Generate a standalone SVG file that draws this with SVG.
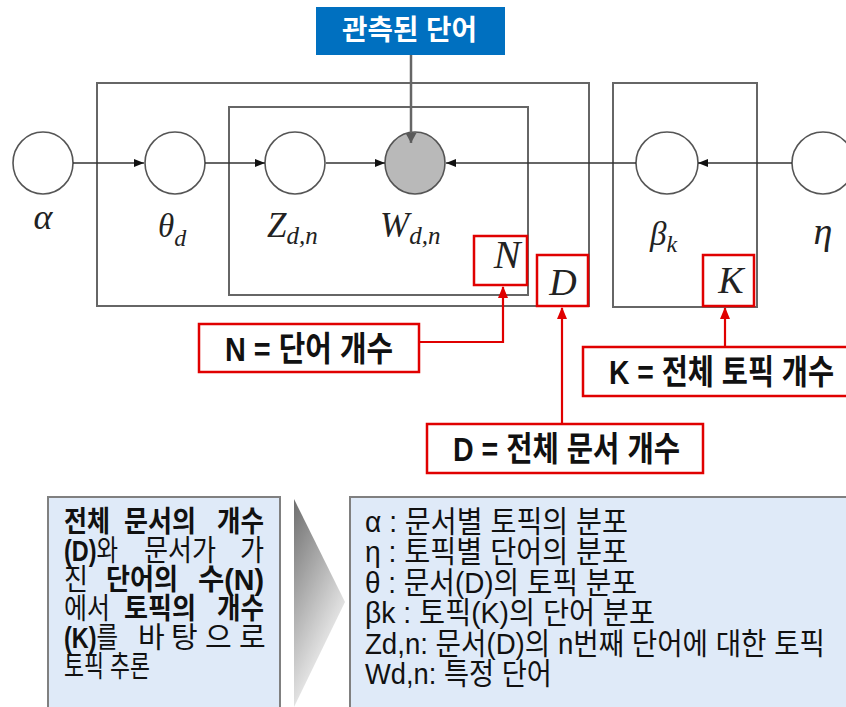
<svg xmlns="http://www.w3.org/2000/svg" width="846" height="707" viewBox="0 0 846 707">
<style>
.plate{fill:none;stroke:#666;stroke-width:2}
.node{fill:#fff;stroke:#555;stroke-width:1.6}
.obs{fill:#b9b9b9;stroke:#555;stroke-width:1.6}
.edge{fill:none;stroke:#333;stroke-width:1.5;marker-end:url(#ah)}
.redline{fill:none;stroke:#e00000;stroke-width:2.2;marker-end:url(#rah)}
.redbox{fill:#fff;stroke:#e00000;stroke-width:2.5}
.math{font-family:"Liberation Serif","DejaVu Serif",serif;font-style:italic;fill:#222}
.lbl{font-family:"Liberation Sans","Noto Sans CJK KR",sans-serif;font-weight:bold;font-size:34px;fill:#111}
.info{fill:#dfeaf8;stroke:#808080;stroke-width:2}
.t{font-family:"Liberation Sans","Noto Sans CJK KR",sans-serif;font-size:29px;fill:#111}
.r{font-family:"Liberation Sans","Noto Sans CJK KR",sans-serif;font-size:30px;fill:#111}
.b{font-weight:bold}
</style>
<defs>
<marker id="ah" markerUnits="userSpaceOnUse" markerWidth="10" markerHeight="8" refX="10" refY="4" orient="auto"><path d="M0,0 L10,4 L0,8 Z" fill="#111"/></marker>
<marker id="gah" markerUnits="userSpaceOnUse" markerWidth="10" markerHeight="11" refX="10" refY="5.5" orient="auto"><path d="M0,0 L10,5.5 L0,11 Z" fill="#5a5a5a"/></marker>
<marker id="rah" markerUnits="userSpaceOnUse" markerWidth="12" markerHeight="10" refX="11" refY="5" orient="auto"><path d="M0,0 L12,5 L0,10 Z" fill="#e00000"/></marker>
<linearGradient id="chev" x1="0" y1="0" x2="0.5" y2="1">
<stop offset="0" stop-color="#6e6e6e"/>
<stop offset="1" stop-color="#ffffff"/>
</linearGradient>
</defs>

<g id="plates">
<rect id="plate-D" class="plate" x="97" y="83" width="492" height="223"/>
<rect id="plate-N" class="plate" x="229" y="107" width="299" height="188"/>
<rect id="plate-K" class="plate" x="613" y="83" width="144" height="224"/>
</g>

<g id="node-alpha">
<ellipse class="node" cx="43" cy="163" rx="30" ry="31"/>
<text class="math" x="43" y="229" font-size="36" text-anchor="middle">α</text>
</g>
<g id="node-theta">
<ellipse class="node" cx="175" cy="163" rx="30" ry="31"/>
<text class="math" x="158" y="237" font-size="33">θ<tspan font-size="24" dy="9">d</tspan></text>
</g>
<g id="node-z">
<ellipse class="node" cx="295" cy="163" rx="30" ry="31"/>
<text class="math" x="267" y="237" font-size="35">Z<tspan font-size="25" dy="7">d,n</tspan></text>
</g>
<g id="node-w">
<ellipse class="obs" cx="415" cy="163" rx="30" ry="31"/>
<text class="math" x="380" y="237" font-size="35">W<tspan font-size="25" dy="7">d,n</tspan></text>
</g>
<g id="node-beta">
<ellipse class="node" cx="667" cy="163" rx="31" ry="31"/>
<text class="math" x="650" y="245" font-size="33">β<tspan font-size="24" dy="7">k</tspan></text>
</g>
<g id="node-eta">
<ellipse class="node" cx="823" cy="163" rx="31" ry="31"/>
<text class="math" x="823" y="244" font-size="38" text-anchor="middle">η</text>
</g>

<g id="observed-label">
<rect x="316" y="7" width="189" height="48" fill="#0070c0"/>
<text x="342" y="40" font-family="Liberation Sans,'Noto Sans CJK KR',sans-serif" font-size="28" font-weight="bold" fill="#fff" textLength="135" lengthAdjust="spacingAndGlyphs">관측된 단어</text>
</g>

<g id="box-N">
<rect class="redbox" x="474" y="236" width="53" height="49"/>
<text class="math" x="507" y="268" font-size="40" text-anchor="middle">N</text>
</g>
<g id="box-D">
<rect class="redbox" x="537" y="255" width="51" height="51"/>
<text class="math" x="563" y="295" font-size="38" text-anchor="middle">D</text>
</g>
<g id="box-K">
<rect class="redbox" x="703" y="255" width="51" height="51"/>
<text class="math" x="731" y="293" font-size="38" text-anchor="middle">K</text>
</g>

<g id="connectors">
<line class="edge" x1="73" y1="163" x2="144" y2="163"/>
<line class="edge" x1="205" y1="163" x2="265" y2="163"/>
<line class="edge" x1="326" y1="163" x2="385" y2="163"/>
<line class="edge" x1="636" y1="163" x2="446" y2="163"/>
<line class="edge" x1="792" y1="163" x2="698" y2="163"/>
<line x1="411" y1="55" x2="411" y2="143" stroke="#666" stroke-width="2.5" marker-end="url(#gah)"/>
<polyline class="redline" points="419,342 503,342 503,287"/>
<line class="redline" x1="562" y1="424" x2="562" y2="308"/>
<line class="redline" x1="725" y1="347" x2="725" y2="308"/>
</g>

<g id="label-N">
<rect class="redbox" x="199" y="324" width="220" height="48"/>
<text class="lbl" x="225" y="361" textLength="168" lengthAdjust="spacingAndGlyphs">N = 단어 개수</text>
</g>
<g id="label-K">
<rect class="redbox" x="583" y="347" width="266" height="49"/>
<text class="lbl" x="609" y="384" textLength="225" lengthAdjust="spacingAndGlyphs">K = 전체 토픽 개수</text>
</g>
<g id="label-D">
<rect class="redbox" x="427" y="424" width="276" height="49"/>
<text class="lbl" x="453" y="461" textLength="227" lengthAdjust="spacingAndGlyphs">D = 전체 문서 개수</text>
</g>

<g id="summary-box">
<rect class="info" x="48" y="497" width="232" height="215"/>
<text class="t b" x="64" y="532" textLength="46" lengthAdjust="spacingAndGlyphs">전체</text>
<text class="t b" x="124" y="532" textLength="72" lengthAdjust="spacingAndGlyphs">문서의</text>
<text class="t b" x="217" y="532" textLength="47" lengthAdjust="spacingAndGlyphs">개수</text>
<text class="t" x="64" y="561" textLength="54" lengthAdjust="spacingAndGlyphs"><tspan class="b">(D)</tspan>와</text>
<text class="t" x="144" y="561" textLength="72" lengthAdjust="spacingAndGlyphs">문서가</text>
<text class="t" x="240" y="561" textLength="24" lengthAdjust="spacingAndGlyphs">가</text>
<text class="t" x="64" y="590" textLength="24" lengthAdjust="spacingAndGlyphs">진</text>
<text class="t b" x="106" y="590" textLength="72" lengthAdjust="spacingAndGlyphs">단어의</text>
<text class="t b" x="198" y="590" textLength="66" lengthAdjust="spacingAndGlyphs">수(N)</text>
<text class="t" x="64" y="619" textLength="46" lengthAdjust="spacingAndGlyphs">에서</text>
<text class="t b" x="124" y="619" textLength="72" lengthAdjust="spacingAndGlyphs">토픽의</text>
<text class="t b" x="217" y="619" textLength="47" lengthAdjust="spacingAndGlyphs">개수</text>
<text class="t" x="64" y="648" textLength="54" lengthAdjust="spacingAndGlyphs"><tspan class="b">(K)</tspan>를</text>
<text class="t" x="138 171 205 239" y="648" font-size="27">바탕으로</text>
<text class="t" x="64" y="677" textLength="86" lengthAdjust="spacingAndGlyphs">토픽 추론</text>
</g>

<g id="chevron">
<polygon points="294,499 345,602 294,707" fill="url(#chev)"/>
</g>

<g id="legend-box">
<rect class="info" x="350" y="497" width="510" height="215"/>
<text class="r" x="365" y="532" textLength="263" lengthAdjust="spacingAndGlyphs">α : 문서별 토픽의 분포</text>
<text class="r" x="365" y="562" textLength="263" lengthAdjust="spacingAndGlyphs">η : 토픽별 단어의 분포</text>
<text class="r" x="365" y="593" textLength="272" lengthAdjust="spacingAndGlyphs">θ : 문서(D)의 토픽 분포</text>
<text class="r" x="365" y="623" textLength="290" lengthAdjust="spacingAndGlyphs">βk  : 토픽(K)의 단어 분포</text>
<text class="r" x="365" y="654" textLength="460" lengthAdjust="spacingAndGlyphs">Zd,n: 문서(D)의 n번째 단어에 대한 토픽</text>
<text class="r" x="365" y="684" textLength="187" lengthAdjust="spacingAndGlyphs">Wd,n: 특정 단어</text>
</g>
</svg>
